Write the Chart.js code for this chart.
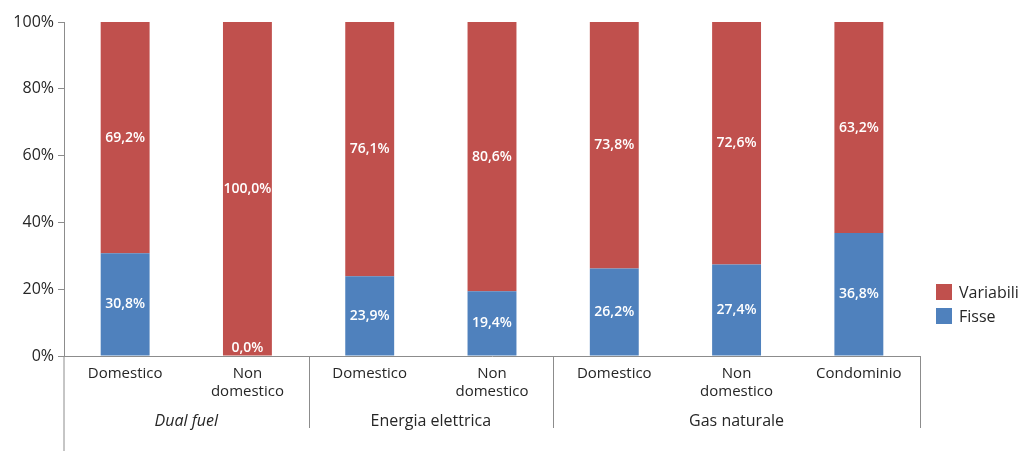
<!DOCTYPE html>
<html>
<head>
<meta charset="utf-8">
<script src="https://cdn.jsdelivr.net/npm/chart.js@4/dist/chart.umd.min.js"></script>
<style>
  body { margin: 0; background: #fff; font-family: "Open Sans", sans-serif; }
  #wrap { position: relative; width: 1024px; height: 451px; }
  #legend { position: absolute; left: 936px; top: 280px; color: #262626; font-size: 16px; }
  #legend div { display: flex; align-items: center; height: 24px; }
  #legend span.box { display: inline-block; width: 16px; height: 16px; margin-right: 7px; }
</style>
</head>
<body>
<div id="wrap">
  <canvas id="chart"></canvas>
  <div id="legend"></div>
</div>
<script>
const categories = [['Domestico'], ['Non', 'domestico'], ['Domestico'], ['Non', 'domestico'], ['Domestico'], ['Non', 'domestico'], ['Condominio']];
const groups = ['Dual fuel', 'Energia elettrica', 'Gas naturale'];
const groupSizes = [2, 2, 3];
const fisse = [30.8, 0.0, 23.9, 19.4, 26.2, 27.4, 36.8];
const variabili = [69.2, 100.0, 76.1, 80.6, 73.8, 72.6, 63.2];
const yTicks = [0, 20, 40, 60, 80, 100];

const colFisse = '#4F81BD';
const colVariabili = '#C0504D';
const axisColor = '#8c8c8c';
const textColor = '#262626';
const fontFamily = '"Open Sans", sans-serif';

function fmt(v) {
    return v.toFixed(1).replace('.', ',') + '%';
}

// legend (Variabili sopra, Fisse sotto)
const legend = document.getElementById('legend');
[['Variabili', colVariabili], ['Fisse', colFisse]].forEach(([name, c]) => {
    const d = document.createElement('div');
    d.innerHTML = `<span class="box" style="background:${c}"></span>${name}`;
    legend.appendChild(d);
});

// etichette valori dentro le barre
const valueLabels = {
    id: 'valueLabels',
    afterDatasetsDraw(chart) {
        const ctx = chart.ctx;
        const base = chart.scales.y.getPixelForValue(0);
        ctx.save();
        ctx.fillStyle = '#fff';
        ctx.font = '600 14px ' + fontFamily;
        ctx.textAlign = 'center';
        ctx.textBaseline = 'middle';
        chart.data.datasets.forEach((ds, i) => {
            chart.getDatasetMeta(i).data.forEach((bar, j) => {
                const v = ds.data[j];
                let y = (bar.y + bar.base) / 2;
                if (v === 0) y = base - 8;
                ctx.fillText(fmt(v), bar.x, y);
            });
        });
        ctx.restore();
    }
};

// gruppi sotto l'asse x, separatori e prolungamento asse y
const groupAxis = {
    id: 'groupAxis',
    afterDraw(chart) {
        const ctx = chart.ctx;
        const x = chart.scales.x;
        const area = chart.chartArea;
        const step = x.getPixelForValue(1) - x.getPixelForValue(0);
        ctx.save();
        ctx.strokeStyle = axisColor;
        ctx.lineWidth = 1;
        ctx.beginPath();
        ctx.moveTo(area.left, area.bottom);
        ctx.lineTo(area.left, chart.height);
        ctx.stroke();
        let start = 0;
        groupSizes.forEach((n, g) => {
            const left = x.getPixelForValue(start) - step / 2;
            const right = x.getPixelForValue(start + n - 1) + step / 2;
            ctx.beginPath();
            ctx.moveTo(Math.round(right) + 0.5, area.bottom);
            ctx.lineTo(Math.round(right) + 0.5, area.bottom + 72);
            ctx.stroke();
            ctx.fillStyle = textColor;
            ctx.font = (g === 0 ? 'italic ' : '') + '16px ' + fontFamily;
            ctx.textAlign = 'center';
            ctx.textBaseline = 'middle';
            ctx.fillText(groups[g], (left + right) / 2, area.bottom + 65);
            start += n;
        });
        ctx.restore();
    }
};

new Chart(document.getElementById('chart'), {
    type: 'bar',
    data: {
        labels: categories,
        datasets: [
            { label: 'Fisse', data: fisse, backgroundColor: colFisse, barPercentage: 0.4, categoryPercentage: 1 },
            { label: 'Variabili', data: variabili, backgroundColor: colVariabili, barPercentage: 0.4, categoryPercentage: 1 }
        ]
    },
    options: {
        responsive: true,
        maintainAspectRatio: false,
        animation: false,
        layout: { padding: { top: 22, right: 104, left: 0, bottom: 0 } },
        plugins: { legend: { display: false }, tooltip: { enabled: false } },
        scales: {
            x: {
                stacked: true,
                grid: { display: false },
                border: { display: true, color: axisColor },
                ticks: { color: textColor, font: { family: fontFamily, size: 15, lineHeight: 1.2 }, padding: 1, maxRotation: 0, autoSkip: false },
                afterFit: s => { s.height = 95; }
            },
            y: {
                stacked: true,
                min: 0,
                max: 100,
                afterBuildTicks: s => { s.ticks = yTicks.map(v => ({ value: v })); },
                grid: { drawOnChartArea: false, drawTicks: true, tickLength: 6, color: axisColor },
                border: { display: true, color: axisColor },
                ticks: { color: textColor, font: { family: fontFamily, size: 16 }, padding: 4, callback: v => v + '%' },
                afterFit: s => { s.width = 64; }
            }
        }
    },
    plugins: [valueLabels, groupAxis]
});
</script>
</body>
</html>
